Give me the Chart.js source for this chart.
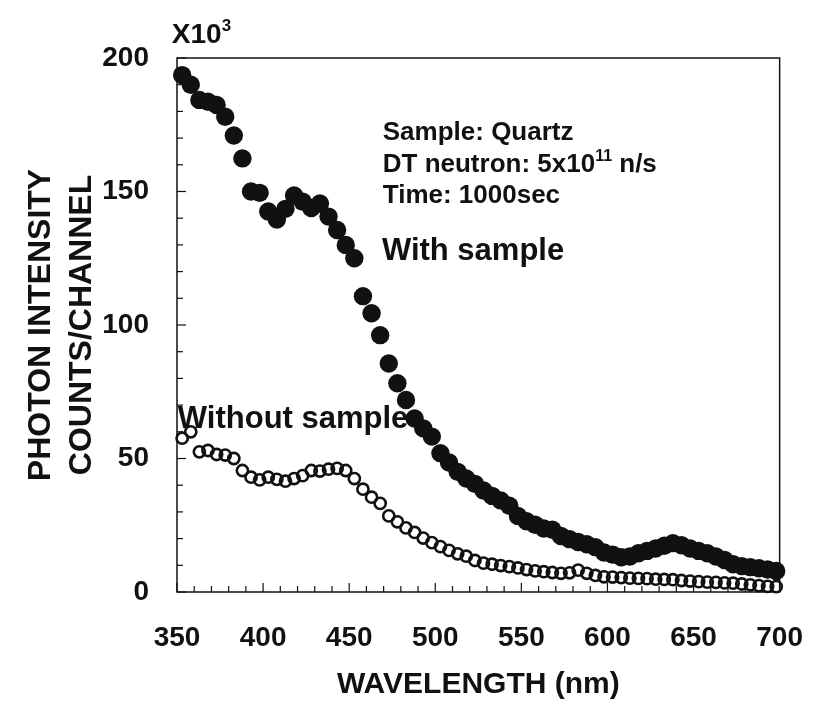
<!DOCTYPE html>
<html>
<head>
<meta charset="utf-8">
<script src="https://cdn.jsdelivr.net/npm/chart.js@4.4.1/dist/chart.umd.min.js"></script>
<style>
  body { margin: 0; background: #fff; }
</style>
</head>
<body>
<canvas id="c" width="832" height="711"></canvas>
<script>
// wavelength of each channel (nm)
const wavelength = [
  353, 358, 363, 368, 373, 378, 383, 388, 393, 398,
  403, 408, 413, 418, 423, 428, 433, 438, 443, 448,
  453, 458, 463, 468, 473, 478, 483, 488, 493, 498,
  503, 508, 513, 518, 523, 528, 533, 538, 543, 548,
  553, 558, 563, 568, 573, 578, 583, 588, 593, 598,
  603, 608, 613, 618, 623, 628, 633, 638, 643, 648,
  653, 658, 663, 668, 673, 678, 683, 688, 693, 698
];

// counts/channel in units of 10^3
const withSample = [
  193.6, 190, 184.3, 183.6, 182.4, 178, 171, 162.4, 150, 149.5,
  142.5, 139.5, 143.5, 148.5, 146.2, 143.8, 145.5, 140.6, 135.6, 130,
  125, 110.8, 104.4, 96.2, 85.6, 78.2, 71.9, 65, 61.3, 58.2,
  52, 48.5, 45, 42.5, 40.5, 38, 36, 34.3, 32.3, 28.5,
  26.5, 25.2, 23.8, 23.3, 21, 19.8, 18.7, 17.9, 16.8, 14.8,
  14, 13, 13.3, 14.5, 15.4, 16.3, 17.3, 18.3, 17.5, 16.3,
  15.4, 14.5, 13.3, 12, 10.4, 9.7, 9.3, 8.9, 8.4, 7.9
];

const withoutSample = [
  57.6, 60, 52.5, 53, 51.5, 51.3, 50, 45.5, 43, 42,
  43, 42.2, 41.5, 42.5, 43.6, 45.5, 45.3, 46, 46.3, 45.5,
  42.5, 38.5, 35.5, 33.2, 28.5, 26.3, 24, 22.3, 20.2, 18.5,
  17, 15.6, 14.3, 13.4, 11.8, 10.8, 10.4, 9.9, 9.5, 9,
  8.4, 7.9, 7.6, 7.3, 7, 7.2, 8.2, 7, 6.2, 5.7,
  5.6, 5.4, 5.2, 5.1, 5, 4.8, 4.7, 4.6, 4.3, 4.1,
  3.9, 3.7, 3.6, 3.4, 3.3, 3, 2.7, 2.4, 2.1, 2
];

const xRange = [350, 700];
const yRange = [0, 200];

const FONT = '"Liberation Sans", Arial, Helvetica, sans-serif';
const INK = '#111';

function toPoints(xs, ys) {
  return xs.map((x, i) => ({ x: x, y: ys[i] }));
}

// text with a superscript part: [[text, isSup], ...]
function drawRich(ctx, parts, x, y, size) {
  let cx = x;
  parts.forEach(([t, sup]) => {
    ctx.font = 'bold ' + (sup ? Math.round(size * 0.6) : size) + 'px ' + FONT;
    ctx.fillText(t, cx, sup ? y - size * 0.42 : y);
    cx += ctx.measureText(t).width;
  });
}

const framePlugin = {
  id: 'frame',
  afterDatasetsDraw(chart) {
    const { ctx, chartArea: a, scales: { x, y } } = chart;
    ctx.save();
    ctx.strokeStyle = INK;
    ctx.lineWidth = 1.5;
    ctx.strokeRect(a.left, a.top, a.right - a.left, a.bottom - a.top);

    // small ticks pointing into the plot
    ctx.lineWidth = 1.2;
    for (let v = xRange[0]; v <= xRange[1]; v += 10) {
      const px = x.getPixelForValue(v);
      const len = v % 50 === 0 ? 9 : 6;
      ctx.beginPath();
      ctx.moveTo(px, a.bottom);
      ctx.lineTo(px, a.bottom - len);
      ctx.stroke();
    }
    for (let v = yRange[0]; v <= yRange[1]; v += 10) {
      const py = y.getPixelForValue(v);
      const len = v % 50 === 0 ? 9 : 6;
      ctx.beginPath();
      ctx.moveTo(a.left, py);
      ctx.lineTo(a.left + len, py);
      ctx.stroke();
    }

    // annotations
    ctx.fillStyle = INK;
    ctx.textAlign = 'left';
    ctx.textBaseline = 'alphabetic';
    drawRich(ctx, [['X10', false], ['3', true]], x.getPixelForValue(347), y.getPixelForValue(205.6), 28);
    drawRich(ctx, [['Sample: Quartz', false]], x.getPixelForValue(469.5), y.getPixelForValue(169.3), 26);
    drawRich(ctx, [['DT neutron: 5x10', false], ['11', true], [' n/s', false]], x.getPixelForValue(469.5), y.getPixelForValue(157.3), 26);
    drawRich(ctx, [['Time: 1000sec', false]], x.getPixelForValue(469.5), y.getPixelForValue(145.7), 26);
    drawRich(ctx, [['With sample', false]], x.getPixelForValue(469), y.getPixelForValue(124.3), 31);
    drawRich(ctx, [['Without sample', false]], x.getPixelForValue(350.5), y.getPixelForValue(61.4), 31);
    ctx.restore();
  }
};

new Chart(document.getElementById('c'), {
  type: 'scatter',
  data: {
    datasets: [
      {
        label: 'With sample',
        data: toPoints(wavelength, withSample),
        pointStyle: 'circle',
        pointRadius: 9.2,
        pointBackgroundColor: INK,
        pointBorderWidth: 0,
        showLine: false,
        clip: false
      },
      {
        label: 'Without sample',
        data: toPoints(wavelength, withoutSample),
        pointStyle: 'circle',
        pointRadius: 5.6,
        pointBackgroundColor: 'rgba(0,0,0,0)',
        pointBorderColor: INK,
        pointBorderWidth: 2.6,
        showLine: false,
        clip: false
      }
    ]
  },
  options: {
    responsive: false,
    animation: false,
    layout: { padding: { left: 0, top: 58, right: 30, bottom: 0 } },
    plugins: {
      legend: { display: false },
      tooltip: { enabled: false }
    },
    scales: {
      x: {
        type: 'linear',
        min: xRange[0],
        max: xRange[1],
        grid: { display: false, drawTicks: false },
        border: { display: false },
        ticks: {
          stepSize: 50,
          padding: 29,
          maxRotation: 0,
          color: INK,
          font: { family: FONT, size: 28, weight: 'bold' }
        },
        title: {
          display: true,
          text: 'WAVELENGTH (nm)',
          color: INK,
          padding: { top: 0, bottom: 8 },
          font: { family: FONT, size: 30, weight: 'bold' }
        },
        afterFit(scale) { scale.height = 119; }
      },
      y: {
        type: 'linear',
        min: yRange[0],
        max: yRange[1],
        grid: { display: false, drawTicks: false },
        border: { display: false },
        ticks: {
          stepSize: 50,
          padding: 28,
          color: INK,
          font: { family: FONT, size: 28, weight: 'bold' }
        },
        title: {
          display: true,
          text: ['PHOTON INTENSITY', 'COUNTS/CHANNEL'],
          color: INK,
          padding: { top: 21, bottom: 0 },
          font: { family: FONT, size: 32, weight: 'bold', lineHeight: 1.28 }
        },
        afterFit(scale) { scale.width = 177; }
      }
    }
  },
  plugins: [framePlugin]
});
</script>
</body>
</html>
